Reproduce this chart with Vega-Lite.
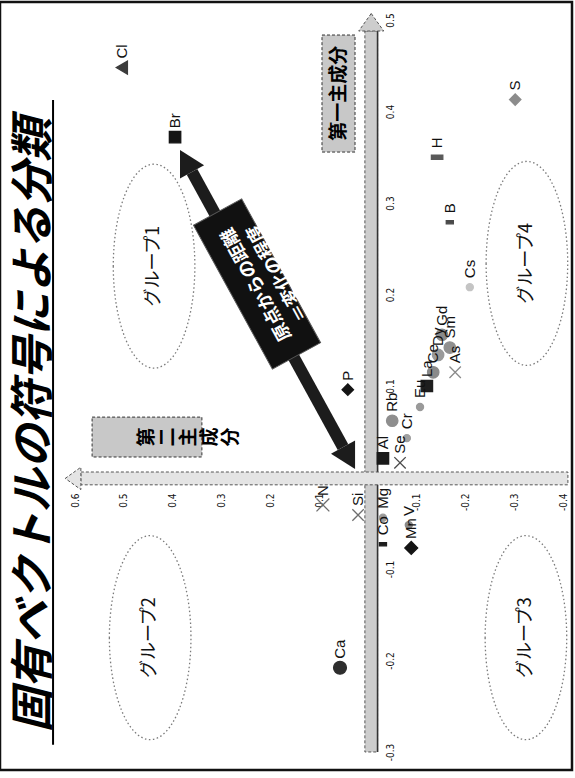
{
  "$schema": "https://vega.github.io/schema/vega-lite/v6.json",
  "width": 572,
  "height": 768,
  "autosize": "none",
  "padding": {"left": 0, "top": 2, "right": 3, "bottom": 8},
  "background": "#ffffff",
  "config": {
    "view": {"stroke": "#111111", "strokeWidth": 2.5}
  },
  "datasets": {
    "points": [
      {"element": "Cl", "pc2": 0.504, "pc1": 0.448},
      {"element": "Br", "pc2": 0.395, "pc1": 0.372},
      {"element": "S", "pc2": -0.302, "pc1": 0.413},
      {"element": "H", "pc2": -0.142, "pc1": 0.350},
      {"element": "B", "pc2": -0.168, "pc1": 0.279},
      {"element": "Cs", "pc2": -0.209, "pc1": 0.208},
      {"element": "Gd", "pc2": -0.152, "pc1": 0.156},
      {"element": "Sm", "pc2": -0.168, "pc1": 0.142},
      {"element": "Dy", "pc2": -0.144, "pc1": 0.134},
      {"element": "As", "pc2": -0.179, "pc1": 0.115},
      {"element": "La", "pc2": -0.121, "pc1": 0.100},
      {"element": "Ce", "pc2": -0.134, "pc1": 0.115},
      {"element": "Eu", "pc2": -0.107, "pc1": 0.077},
      {"element": "Rb", "pc2": -0.050, "pc1": 0.062},
      {"element": "Cr", "pc2": -0.080, "pc1": 0.043},
      {"element": "Se", "pc2": -0.066, "pc1": 0.016},
      {"element": "Al", "pc2": -0.031, "pc1": 0.021},
      {"element": "P", "pc2": 0.041, "pc1": 0.096},
      {"element": "Mg", "pc2": -0.031, "pc1": -0.044},
      {"element": "Co", "pc2": -0.031, "pc1": -0.073},
      {"element": "V", "pc2": -0.084, "pc1": -0.052},
      {"element": "Mn", "pc2": -0.089, "pc1": -0.077},
      {"element": "Si", "pc2": 0.020, "pc1": -0.041},
      {"element": "N", "pc2": 0.092, "pc1": -0.030},
      {"element": "Ca", "pc2": 0.057, "pc1": -0.208}
    ],
    "groups": [
      {"name": "グループ1", "pc2": 0.438, "pc1": 0.231},
      {"name": "グループ2", "pc2": 0.446, "pc1": -0.175},
      {"name": "グループ3", "pc2": -0.324, "pc1": -0.175},
      {"name": "グループ4", "pc2": -0.326, "pc1": 0.234}
    ],
    "axis_boxes": [
      {"label": "第一主成分", "pc2": 0.0939, "pc2_end": 0.0262, "pc1": 0.4836, "pc1_end": 0.3557},
      {"label": "第二主成分", "pc2": 0.565, "pc2_end": 0.340, "pc1": 0.066, "pc1_end": 0.0224}
    ],
    "axis_box_labels": [
      {"label": "第一主成分", "pc2": 0.060, "pc1": 0.420},
      {"label": "第\n二\n主\n成\n分", "pc2": 0.4525, "pc1": 0.0443}
    ],
    "heading": [
      {"title": "固有ベクトルの符号による分類", "pc2": 0.683, "pc1": 0.0574}
    ]
  },
  "encoding": {
    "x": {
      "field": "pc2",
      "type": "quantitative",
      "title": null,
      "scale": {"domain": [-0.4184, 0.7537], "reverse": true, "nice": false, "zero": false},
      "axis": {
        "orient": "bottom",
        "offset": -285,
        "values": [0.6, 0.5, 0.4, 0.3, 0.2, 0.1, -0.1, -0.2, -0.3, -0.4],
        "labelExpr": "replace(format(datum.value, '.1f'), '−', '-')",
        "labelAngle": 270,
        "labelAlign": "right",
        "labelBaseline": "middle",
        "labelPadding": 8,
        "ticks": false,
        "domain": false,
        "grid": false,
        "labelFont": "Liberation Sans Narrow, DejaVu Sans Condensed, sans-serif",
        "labelFontSize": 10,
        "labelColor": "#111111",
        "labelOverlap": false,
        "labelBound": false,
        "labelFlush": false
      }
    },
    "y": {
      "field": "pc1",
      "type": "quantitative",
      "title": null,
      "scale": {"domain": [-0.3197, 0.5197], "nice": false, "zero": false},
      "axis": {
        "orient": "right",
        "offset": -193,
        "values": [0.5, 0.4, 0.3, 0.2, 0.1, -0.1, -0.2, -0.3],
        "labelExpr": "replace(format(datum.value, '.1f'), '−', '-')",
        "labelAngle": 270,
        "labelAlign": "center",
        "labelBaseline": "top",
        "labelPadding": 6,
        "ticks": false,
        "domain": false,
        "grid": false,
        "labelFont": "Liberation Sans Narrow, DejaVu Sans Condensed, sans-serif",
        "labelFontSize": 10,
        "labelColor": "#111111",
        "labelOverlap": false,
        "labelBound": false,
        "labelFlush": false
      }
    }
  },
  "layer": [
    {
      "data": {"name": "heading"},
      "mark": {"type": "text", "angle": 270, "align": "center", "baseline": "middle", "font": "Noto Sans CJK JP", "fontSize": 44, "fontWeight": "bold", "fontStyle": "italic", "color": "#000000"},
      "encoding": {"text": {"field": "title"}}
    },
    {
      "data": {"values": [{"title_line": "固有ベクトルの符号による分類", "pc2": 0.645, "pc1": 0.4126, "pc1_end": -0.292}]},
      "mark": {"type": "rule", "color": "#000000", "strokeWidth": 2},
      "encoding": {"y2": {"field": "pc1_end"}}
    },
    {
      "data": {"name": "groups"},
      "mark": {"type": "point", "shape": "M-0.4,0A0.4,1,0,1,0,0.4,0A0.4,1,0,1,0,-0.4,0Z", "size": 41600, "filled": false, "stroke": "#7a7a7a", "strokeWidth": 1.3, "strokeDash": [1.5, 2.5], "opacity": 1}
    },
    {
      "data": {"name": "groups"},
      "mark": {"type": "text", "angle": 270, "font": "Noto Sans CJK JP", "fontSize": 18, "color": "#111111", "align": "center", "baseline": "middle"},
      "encoding": {"text": {"field": "name"}}
    },
    {
      "data": {"values": [{"band": "第一主成分軸", "pc2": 0.006, "pc2_end": -0.020, "pc1": -0.300, "pc1_end": 0.488}]},
      "mark": {"type": "rect", "fill": "#cdcdcd", "stroke": "#555555", "strokeWidth": 1, "strokeDash": [3, 2]},
      "encoding": {"x2": {"field": "pc2_end"}, "y2": {"field": "pc1_end"}}
    },
    {
      "data": {"values": [{"band": "第一主成分軸", "pc2": -0.020, "pc1": -0.300, "pc1_end": 0.488}]},
      "mark": {"type": "rule", "color": "#333333", "strokeWidth": 1.6},
      "encoding": {"y2": {"field": "pc1_end"}}
    },
    {
      "data": {"values": [{"band": "第二主成分軸", "pc2": 0.588, "pc2_end": -0.410, "pc1": 0.006, "pc1_end": -0.008}]},
      "mark": {"type": "rect", "fill": "#e4e4e4", "stroke": "#555555", "strokeWidth": 1, "strokeDash": [3, 2]},
      "encoding": {"x2": {"field": "pc2_end"}, "y2": {"field": "pc1_end"}}
    },
    {
      "data": {"values": [{"band": "第一主成分軸", "pc2": -0.007, "pc1": 0.488}]},
      "mark": {"type": "point", "shape": "M0,-1.4L1,0L-1,0Z", "size": 625, "filled": true, "fill": "#cdcdcd", "stroke": "#555555", "strokeWidth": 1, "strokeDash": [3, 2], "opacity": 1, "angle": 0}
    },
    {
      "data": {"values": [{"band": "第二主成分軸", "pc2": 0.588, "pc1": -0.001}]},
      "mark": {"type": "point", "shape": "M0,-1.4L1,0L-1,0Z", "size": 500, "filled": true, "fill": "#e4e4e4", "stroke": "#555555", "strokeWidth": 1, "strokeDash": [3, 2], "opacity": 1, "angle": 270}
    },
    {
      "data": {"name": "axis_boxes"},
      "mark": {"type": "rect", "fill": "#c8c8c8", "stroke": "#333333", "strokeWidth": 1, "strokeDash": [3, 2]},
      "encoding": {"x2": {"field": "pc2_end"}, "y2": {"field": "pc1_end"}}
    },
    {
      "data": {"name": "axis_box_labels"},
      "mark": {"type": "text", "angle": 270, "lineBreak": "\n", "lineHeight": 21, "font": "Noto Sans CJK JP", "fontSize": 19, "fontWeight": "bold", "color": "#000000", "align": "center", "baseline": "middle"},
      "encoding": {"text": {"field": "label"}}
    },
    {
      "data": {"values": [{"arrow": "原点からの距離", "pc2": 0.3602, "pc1": 0.3340, "pc2_end": 0.0508, "pc1_end": 0.0332}]},
      "mark": {"type": "rule", "color": "#1c1c1c", "strokeWidth": 12, "strokeCap": "butt"},
      "encoding": {"x2": {"field": "pc2_end"}, "y2": {"field": "pc1_end"}}
    },
    {
      "data": {"values": [{"arrow": "原点からの距離", "pc2": 0.3602, "pc1": 0.3340}]},
      "mark": {"type": "point", "shape": "M0,-1L0.55,0L-0.55,0Z", "size": 2500, "filled": true, "fill": "#1c1c1c", "opacity": 1, "angle": 331.25}
    },
    {
      "data": {"values": [{"arrow": "原点からの距離", "pc2": 0.0508, "pc1": 0.0332}]},
      "mark": {"type": "point", "shape": "M0,-1L0.55,0L-0.55,0Z", "size": 2500, "filled": true, "fill": "#1c1c1c", "opacity": 1, "angle": 151.25}
    },
    {
      "data": {"values": [{"note": "原点からの距離\n＝変化の程度", "pc2": 0.227, "pc1": 0.2115}]},
      "mark": {"type": "point", "shape": "M-0.335,-1H0.335V1H-0.335Z", "size": 26896, "filled": true, "fill": "#111111", "stroke": "#555555", "strokeWidth": 1, "opacity": 1, "angle": 331.25}
    },
    {
      "data": {"values": [{"note": "原点からの距離\n＝変化の程度", "pc2": 0.227, "pc1": 0.2115}]},
      "mark": {"type": "text", "angle": 241.25, "lineBreak": "\n", "lineHeight": 24, "font": "Noto Sans CJK JP", "fontSize": 18, "fontWeight": "bold", "color": "#ffffff", "align": "center", "baseline": "middle"},
      "encoding": {"text": {"field": "note"}}
    },
    {
      "data": {"name": "points"},
      "encoding": {
        "shape": {"field": "element", "type": "nominal", "legend": null,
          "scale": {
            "domain": ["Cl","Br","S","H","B","Cs","Gd","Sm","Dy","As","La","Ce","Eu","Rb","Cr","Se","Al","P","Mg","Co","V","Mn","Si","N","Ca"],
            "range": ["triangle-left","square","diamond","M-1,-0.35H1V0.35H-1Z","M-1,-0.45H1V0.45H-1Z","circle","circle","circle","circle","M-1,-1L1,1M-1,1L1,-1","square","circle","circle","circle","circle","M-1,-1L1,1M-1,1L1,-1","square","diamond","circle","M-1,-0.45H1V0.45H-1Z","circle","diamond","M-1,-1L1,1M-1,1L1,-1","M-1,-1L1,1M-1,1L1,-1","circle"]
          }
        },
        "color": {"field": "element", "type": "nominal", "legend": null,
          "scale": {
            "domain": ["Cl","Br","S","H","B","Cs","Gd","Sm","Dy","As","La","Ce","Eu","Rb","Cr","Se","Al","P","Mg","Co","V","Mn","Si","N","Ca"],
            "range": ["#3c3c3c","#141414","#8c8c8c","#5a5a5a","#4a4a4a","#c4c4c4","#8a8a8a","#909090","#9a9a9a","#8a8a8a","#1e1e1e","#8a8a8a","#9a9a9a","#8e8e8e","#a0a0a0","#4a4a4a","#1a1a1a","#141414","#9a9a9a","#1e1e1e","#8a8a8a","#141414","#6e6e6e","#6e6e6e","#2e2e2e"]
          }
        },
        "stroke": {"field": "element", "type": "nominal", "legend": null,
          "scale": {
            "domain": ["Cl","Br","S","H","B","Cs","Gd","Sm","Dy","As","La","Ce","Eu","Rb","Cr","Se","Al","P","Mg","Co","V","Mn","Si","N","Ca"],
            "range": ["#3c3c3c","#141414","#8c8c8c","#5a5a5a","#4a4a4a","#c4c4c4","#8a8a8a","#909090","#9a9a9a","#8a8a8a","#1e1e1e","#8a8a8a","#9a9a9a","#8e8e8e","#a0a0a0","#4a4a4a","#1a1a1a","#141414","#9a9a9a","#1e1e1e","#8a8a8a","#141414","#6e6e6e","#6e6e6e","#2e2e2e"]
          }
        }
      },
      "layer": [
        {
          "transform": [{"filter": {"field": "element", "oneOf": ["Cl", "Ca", "Mn", "N"]}}],
          "mark": {"type": "point", "filled": true, "opacity": 1, "strokeWidth": 1.3, "size": 165}
        },
        {
          "transform": [{"filter": {"field": "element", "oneOf": ["Br", "S", "H", "Gd", "Sm", "Dy", "As", "Ce", "Rb", "Al", "P", "Si", "Se", "La"]}}],
          "mark": {"type": "point", "filled": true, "opacity": 1, "strokeWidth": 1.3, "size": 130}
        },
        {
          "transform": [{"filter": {"field": "element", "oneOf": ["B", "Cs", "Eu", "Cr", "Co", "V", "Mg"]}}],
          "mark": {"type": "point", "filled": true, "opacity": 1, "strokeWidth": 1.3, "size": 50}
        }
      ]
    },
    {
      "data": {"name": "points"},
      "mark": {"type": "text", "angle": 270, "align": "left", "baseline": "middle", "dx": 9, "font": "Liberation Sans", "fontSize": 15, "color": "#111111"},
      "encoding": {"text": {"field": "element"}}
    }
  ]
}
